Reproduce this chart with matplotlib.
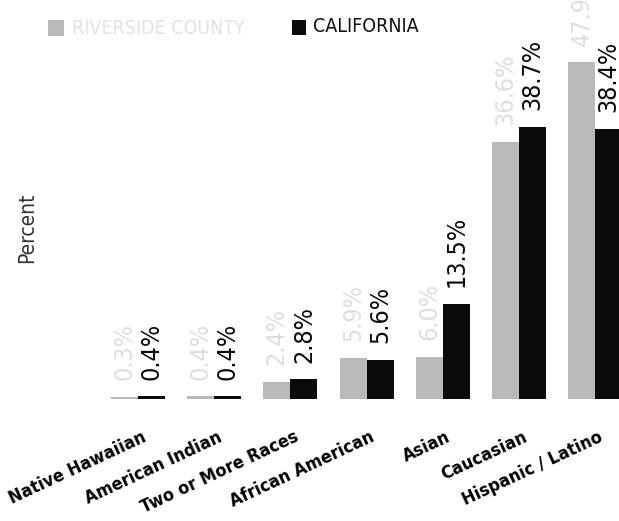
import matplotlib
matplotlib.use("Agg")
import matplotlib.pyplot as plt
from matplotlib.patches import Rectangle
import numpy as np

plt.rcParams['font.family'] = ['DejaVu Sans']
plt.rcParams['font.stretch'] = 'condensed'

categories = ["Native Hawaiian", "American Indian", "Two or More Races",
              "African American", "Asian", "Caucasian", "Hispanic / Latino"]
county = [0.3, 0.4, 2.4, 5.9, 6.0, 36.6, 47.9]
california = [0.4, 0.4, 2.8, 5.6, 13.5, 38.7, 38.4]
county_name = "RIVERSIDE COUNTY"
state_name = "CALIFORNIA"

W, H = 619, 521
fig = plt.figure(figsize=(W / 100, H / 100), dpi=100)
ax = fig.add_axes([0, 122 / H, 1, 1 - 122 / H])

x = np.arange(len(categories))
bw = 0.355
gray = '#b9b9b9'
dark = '#0a0a0a'

ax.bar(x - bw / 2, county, bw, color=gray, linewidth=0)
ax.bar(x + bw / 2, california, bw, color=dark, linewidth=0)

for xi, v in zip(x, county):
    ax.annotate(f"{v:.1f}%", (xi - bw / 2, v), xytext=(0, 12), textcoords='offset points',
                rotation=90, ha='center', va='bottom', fontsize=18, color='#dedede')
for xi, v in zip(x, california):
    ax.annotate(f"{v:.1f}%", (xi + bw / 2, v), xytext=(0, 12), textcoords='offset points',
                rotation=90, ha='center', va='bottom', fontsize=18, color=dark)

ax.set_xlim(-138 / 76.2, (W - 138) / 76.2)
ax.set_ylim(0, 399 / 7.03)
ax.set_xticks(x + 0.04)
ax.set_xticklabels(categories, rotation=25, ha='right', rotation_mode='anchor',
                   fontsize=13, fontweight='bold')
ax.tick_params(axis='x', length=0, pad=21)
ax.set_yticks([])
for s in ax.spines.values():
    s.set_visible(False)

# legend drawn by hand across the top
fig.add_artist(Rectangle((48 / W, 1 - 36 / H), 16 / W, 16 / H, transform=fig.transFigure,
                         color=gray, linewidth=0))
fig.text(72 / W, 1 - 28 / H, county_name, ha='left', va='center', fontsize=14, color='#e2e2e2')
fig.add_artist(Rectangle((292 / W, 1 - 35 / H), 14 / W, 15 / H, transform=fig.transFigure,
                         color=dark, linewidth=0))
fig.text(313 / W, 1 - 27 / H, state_name, ha='left', va='center', fontsize=14, color='#111111')

fig.text(27 / W, 1 - 228 / H, "Percent", rotation=90, ha='center', va='center',
         fontsize=15, color='#333333')

fig.savefig("out.png", dpi=100)
